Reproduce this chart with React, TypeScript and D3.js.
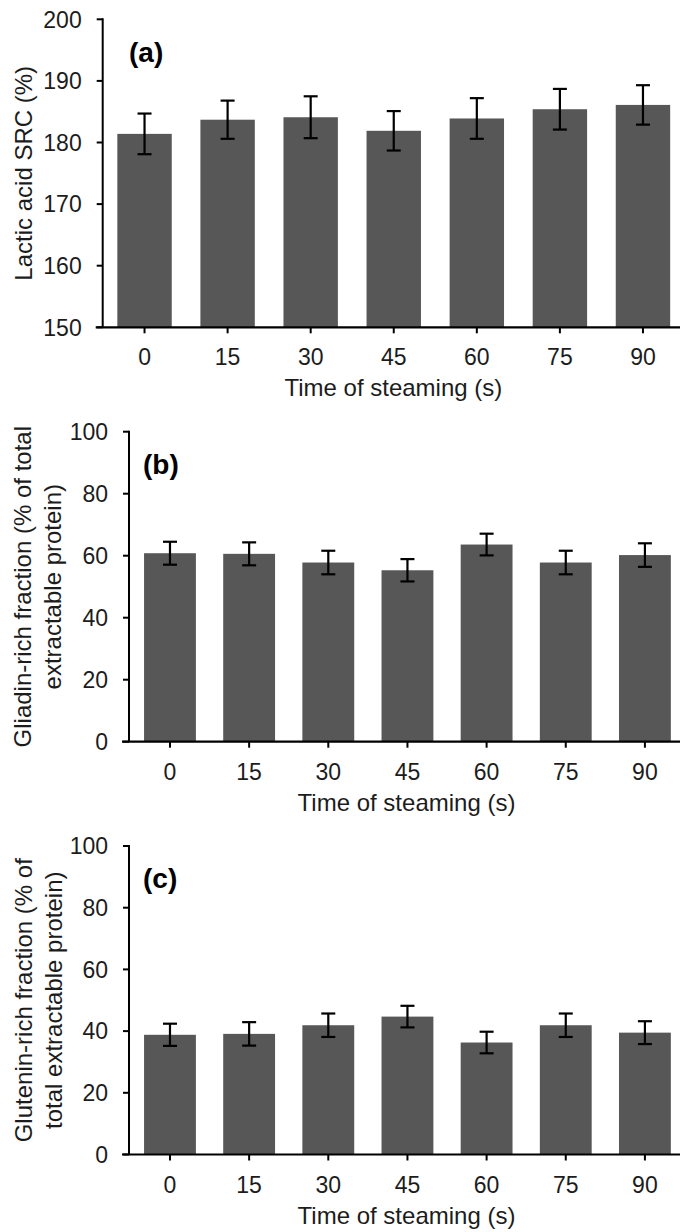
import React from "react";
import { scaleBand, scaleLinear } from "d3";

const times = ["0", "15", "30", "45", "60", "75", "90"];

// (a) lactic acid SRC
const lacticSRC = [181.4, 183.7, 184.1, 181.9, 183.9, 185.4, 186.1];
const lacticSRCErr = [3.3, 3.1, 3.4, 3.2, 3.3, 3.3, 3.2];
const lacticTicks = [150, 160, 170, 180, 190, 200];

// (b) gliadin-rich fraction
const gliadin = [60.8, 60.6, 57.8, 55.3, 63.6, 57.8, 60.2];
const gliadinErr = [3.7, 3.7, 3.8, 3.6, 3.5, 3.8, 3.8];

// (c) glutenin-rich fraction
const glutenin = [38.8, 39.1, 41.9, 44.7, 36.3, 41.9, 39.5];
const gluteninErr = [3.6, 3.8, 3.8, 3.5, 3.5, 3.8, 3.7];
const pctTicks = [0, 20, 40, 60, 80, 100];

const xTitle = "Time of steaming (s)";

const FONT = "'Liberation Sans', Arial, Helvetica, sans-serif";
const BAR = "#575757";
const INK = "#1c1c1c";

type PanelProps = {
  values: number[];
  errs: number[];
  domain: [number, number];
  ticks: number[];
  top: number;
  bottom: number;
  axisX: number;
  bandStart: number;
  yTitle: string[];
  yTitleX: number[];
  label: string;
  labelX: number;
  labelY: number;
};

const Panel = ({ values, errs, domain, ticks, top, bottom, axisX, bandStart, yTitle, yTitleX, label, labelX, labelY }: PanelProps) => {
  const x = scaleBand<string>()
    .domain(times)
    .range([bandStart, 684.5])
    .paddingInner(0.345)
    .paddingOuter(0.1725);
  const y = scaleLinear().domain(domain).range([bottom, top]);
  const cy = (top + bottom) / 2;
  const cx = (axisX + 684) / 2;

  return (
    <g fontFamily={FONT} fill={INK}>
      {values.map((v, i) => {
        const bx = x(times[i])!;
        const mid = bx + x.bandwidth() / 2;
        return (
          <g key={i}>
            <rect x={bx} y={y(v)} width={x.bandwidth()} height={y(domain[0]) - y(v)} fill={BAR} />
            <line x1={mid} x2={mid} y1={y(v + errs[i])} y2={y(v - errs[i])} stroke="#000" strokeWidth={2.2} />
            <line x1={mid - 7} x2={mid + 7} y1={y(v + errs[i])} y2={y(v + errs[i])} stroke="#000" strokeWidth={2.2} />
            <line x1={mid - 7} x2={mid + 7} y1={y(v - errs[i])} y2={y(v - errs[i])} stroke="#000" strokeWidth={2.2} />
          </g>
        );
      })}

      {/* y axis */}
      <line x1={axisX} x2={axisX} y1={y(domain[1]) - 1} y2={bottom} stroke="#000" strokeWidth={2} />
      {ticks.map((t) => (
        <g key={t}>
          <line x1={axisX - 6} x2={axisX} y1={y(t)} y2={y(t)} stroke="#000" strokeWidth={2} />
          <text x={axisX - 21} y={y(t)} dy="0.36em" textAnchor="end" fontSize={23}>
            {t}
          </text>
        </g>
      ))}

      {/* x axis */}
      <line x1={axisX - 7} x2={680} y1={bottom} y2={bottom} stroke="#000" strokeWidth={2.2} />
      {times.map((t) => {
        const mid = x(t)! + x.bandwidth() / 2;
        return (
          <g key={t}>
            <line x1={mid} x2={mid} y1={bottom} y2={bottom + 6} stroke="#000" strokeWidth={2} />
            <text x={mid} y={bottom + 38} textAnchor="middle" fontSize={23}>
              {t}
            </text>
          </g>
        );
      })}
      <text x={cx} y={bottom + 69} textAnchor="middle" fontSize={24}>
        {xTitle}
      </text>

      {yTitle.map((line, i) => (
        <text key={i} transform={`translate(${yTitleX[i]},${cy}) rotate(-90)`} textAnchor="middle" fontSize={24}>
          {line}
        </text>
      ))}

      <text x={labelX} y={labelY} fontSize={28} fontWeight="bold" fill="#000">
        {label}
      </text>
    </g>
  );
};

export default function App() {
  return (
    <svg
      width={680}
      height={1232}
      style={{ position: "absolute", left: 0, top: 0, display: "block", background: "#fff" }}
    >
      <rect width={680} height={1232} fill="#fff" />
      <Panel
        values={lacticSRC}
        errs={lacticSRCErr}
        domain={[150, 200]}
        ticks={lacticTicks}
        top={19.3}
        bottom={327.3}
        axisX={102.7}
        bandStart={103}
        yTitle={["Lactic acid SRC (%)"]}
        yTitleX={[32]}
        label="(a)"
        labelX={129}
        labelY={62}
      />
      <Panel
        values={gliadin}
        errs={gliadinErr}
        domain={[0, 100]}
        ticks={pctTicks}
        top={431.7}
        bottom={741.7}
        axisX={129}
        bandStart={130.4}
        yTitle={["Gliadin-rich fraction (% of total", "extractable protein)"]}
        yTitleX={[31, 61]}
        label="(b)"
        labelX={143}
        labelY={474}
      />
      <Panel
        values={glutenin}
        errs={gluteninErr}
        domain={[0, 100]}
        ticks={pctTicks}
        top={846}
        bottom={1154.5}
        axisX={129}
        bandStart={130.4}
        yTitle={["Glutenin-rich fraction (% of", "total extractable protein)"]}
        yTitleX={[32, 62]}
        label="(c)"
        labelX={143}
        labelY={888}
      />
    </svg>
  );
}
